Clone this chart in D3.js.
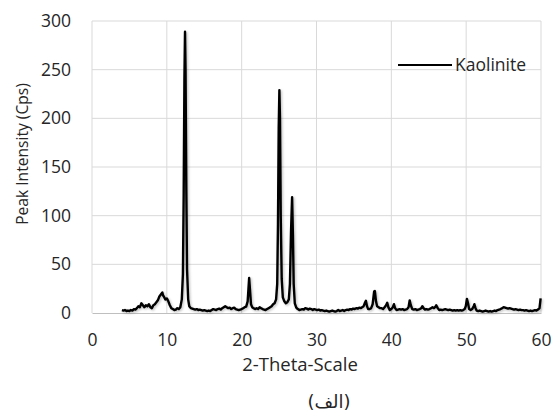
<!DOCTYPE html>
<html>
<head>
<meta charset="utf-8">
<script src="https://cdn.jsdelivr.net/npm/d3@7"></script>
<style>
  html, body { margin: 0; padding: 0; background: #fff; }
  svg text { font-family: "Open Sans", "Liberation Sans", sans-serif; fill: #262626; }
</style>
</head>
<body>
<svg id="chart" width="557" height="412"></svg>
<script>
const seriesName = "Kaolinite";
const xTicks = [0, 10, 20, 30, 40, 50, 60];
const yTicks = [0, 50, 100, 150, 200, 250, 300];
const xTitle = "2-Theta-Scale";
const yTitle = "Peak Intensity (Cps)";
const caption = "(الف)";

const twoTheta = [
  4.0,4.2,4.4,4.6,4.8,5.0,5.2,5.4,5.6,5.8,6.0,6.2,6.4,6.6,6.8,7.0,7.2,7.4,7.6,7.8,
  8.0,8.2,8.4,8.6,8.8,9.0,9.2,9.4,9.5,9.6,9.8,10.0,10.2,10.4,10.6,10.8,11.0,11.2,11.4,11.6,
  11.8,12.0,12.15,12.25,12.35,12.43,12.5,12.6,12.7,12.85,13.0,13.2,13.4,13.6,13.8,14.0,14.2,14.4,14.6,14.8,
  15.0,15.2,15.4,15.6,15.8,16.0,16.2,16.4,16.6,16.8,17.0,17.2,17.4,17.6,17.8,18.0,18.2,18.4,18.6,18.8,
  19.0,19.2,19.4,19.6,19.8,20.0,20.2,20.4,20.6,20.8,20.95,21.0,21.1,21.25,21.4,21.6,21.8,22.0,22.2,22.4,
  22.6,22.8,23.0,23.2,23.4,23.6,23.8,24.0,24.2,24.4,24.6,24.75,24.85,24.95,25.04,25.12,25.22,25.35,25.5,25.7,
  25.9,26.1,26.3,26.45,26.6,26.74,26.85,26.95,27.1,27.3,27.5,27.7,27.9,28.1,28.3,28.5,28.7,28.9,29.1,29.3,
  29.5,29.7,29.9,30.1,30.3,30.5,30.7,30.9,31.1,31.3,31.5,31.7,31.9,32.1,32.3,32.5,32.7,32.9,33.1,33.3,
  33.5,33.7,33.9,34.1,34.3,34.5,34.7,34.9,35.1,35.3,35.5,35.7,35.9,36.1,36.3,36.5,36.6,36.75,36.9,37.1,
  37.3,37.5,37.7,37.8,37.95,38.1,38.3,38.5,38.7,38.9,39.1,39.3,39.45,39.6,39.8,40.0,40.2,40.35,40.5,40.7,
  40.9,41.1,41.3,41.5,41.7,41.9,42.1,42.3,42.45,42.6,42.8,43.0,43.2,43.4,43.6,43.8,44.0,44.15,44.3,44.5,
  44.7,44.9,45.1,45.3,45.5,45.7,45.9,46.0,46.2,46.4,46.6,46.8,47.0,47.2,47.4,47.6,47.8,48.0,48.2,48.4,
  48.6,48.8,49.0,49.2,49.4,49.6,49.8,49.95,50.1,50.25,50.4,50.6,50.8,51.0,51.1,51.25,51.4,51.6,51.8,52.0,
  52.2,52.4,52.6,52.8,53.0,53.2,53.4,53.6,53.8,54.0,54.2,54.4,54.6,54.8,55.0,55.2,55.4,55.6,55.8,56.0,
  56.2,56.4,56.6,56.8,57.0,57.2,57.4,57.6,57.8,58.0,58.2,58.4,58.6,58.8,59.0,59.2,59.4,59.6,59.8,59.95
];
const intensity = [
  3,2.5,3,2,2.5,2,3,2.5,4,3.5,5,7,6,10,8,6,8,7,9,6,
  5,8,9,11,13,17,19,21,18,17,14,15,12,8,5,4,3,3.5,5,4,
  6,14,40,120,240,289,250,130,45,14,7,5,4.5,4,3.5,4,3,3.5,3,2.5,
  3,2.5,2,2.5,2,3,4,3.5,3,4,4.5,3.5,5,6,7,6,5,5.5,4,5,
  5.5,4,3.5,3,3.5,4,5,6,6.5,12,30,36,25,9,6,5,4,5,4,6,
  5,4,3.5,3,4,5,6,7,9,10,14,30,90,190,229,200,100,35,16,12,
  10,11,14,30,85,119,80,30,10,5.5,4,3,3.5,4,3.5,5,4.5,3.5,4.5,4,
  3,4,3.5,3,3.5,2.5,3,2.5,2,2.5,2,1.5,2,2.5,2,1.5,2,3,2,2.5,
  3,2,3,3.5,3,4,3.5,4.5,4,5,4.5,5.5,5,6,7,11,12.5,7,4,4,
  5,9,22,22.5,12,7,6,5,5,4,6,8,10.5,6,3,4,6,9,5,3,
  3.5,4,3.5,4,3,3.5,4,6,13,8,4,3.5,4,3,3.5,4,5,7,5,3.5,
  4,3.5,4,5,6,5,6.5,8,5,3,3.5,3,3.5,4,3.5,3,3.5,3,2.5,3,
  2.5,3,2.5,3,2.5,3,4,7,14.5,10,4,3,4,7,9,5,2.5,2,2.5,2,
  1.5,2,2.5,2,1.5,2,1.5,2,2.5,2,3,3.5,4,5,6,5.5,5,4.5,5,4.5,
  4,3.5,4,3.5,3,3.5,3,3,2.5,3,2.5,2,2.5,2,2.5,3,2.5,3.5,5,15
];

const data = twoTheta.map((t, i) => ({ x: t, y: intensity[i] }));

const svg = d3.select("#chart");
const x = d3.scaleLinear().domain([0, 60]).range([92, 541]);
const y = d3.scaleLinear().domain([0, 300]).range([313, 21]);

const defs = svg.append("defs");
const f = defs.append("filter").attr("id", "shadow").attr("x", "-20%").attr("y", "-20%").attr("width", "140%").attr("height", "140%");
f.append("feDropShadow").attr("dx", 1.2).attr("dy", 1.2).attr("stdDeviation", 1.2)
  .attr("flood-color", "#000").attr("flood-opacity", 0.25);

// gridlines
const grid = svg.append("g");
grid.selectAll("line.h").data(yTicks.filter(d => d > 0)).join("line")
  .attr("x1", x(0)).attr("x2", x(60))
  .attr("y1", d => y(d)).attr("y2", d => y(d))
  .attr("stroke", "#d9d9d9").attr("stroke-width", 1);
grid.selectAll("line.v").data(xTicks).join("line")
  .attr("x1", d => x(d)).attr("x2", d => x(d))
  .attr("y1", y(0)).attr("y2", y(300))
  .attr("stroke", "#d9d9d9").attr("stroke-width", 1);

// x axis
const xAxis = d3.axisBottom(x).tickValues(xTicks).tickSize(0).tickPadding(21).tickFormat(d3.format("d"));
const gx = svg.append("g").attr("transform", `translate(0,${y(0)})`).call(xAxis);
gx.select(".domain").attr("stroke", "#bfbfbf").attr("stroke-width", 1);
gx.selectAll("text").style("font-size", "17.5px").attr("fill", "#262626");

const yAxis = d3.axisLeft(y).tickValues(yTicks).tickSize(0).tickPadding(21).tickFormat(d3.format("d"));
const gy = svg.append("g").attr("transform", `translate(${x(0)},0)`).call(yAxis);
gy.select(".domain").remove();
gy.selectAll("text").style("font-size", "17.5px").attr("fill", "#262626");

// line
const line = d3.line().x(d => x(d.x)).y(d => y(d.y));
svg.append("path").datum(data)
  .attr("d", line)
  .attr("fill", "none")
  .attr("stroke", "#000")
  .attr("stroke-width", 2.4)
  .attr("stroke-linejoin", "round")
  .attr("filter", "url(#shadow)");

// titles
svg.append("text").attr("x", 300).attr("y", 371).attr("text-anchor", "middle")
  .style("font-size", "18.5px").text(xTitle);
svg.append("text").attr("transform", "translate(28,154) rotate(-90)").attr("text-anchor", "middle")
  .style("font-size", "15.6px").text(yTitle);
svg.append("text").attr("x", 329).attr("y", 408).attr("text-anchor", "middle")
  .style("font-size", "18px").style("font-family", "'DejaVu Sans', sans-serif").text(caption);

// legend
const lg = svg.append("g");
lg.append("line").attr("x1", 398).attr("x2", 452).attr("y1", 65).attr("y2", 65)
  .attr("stroke", "#000").attr("stroke-width", 2.2);
lg.append("text").attr("x", 455).attr("y", 65).attr("dy", "0.35em")
  .style("font-size", "17.5px").text(seriesName);
</script>
</body>
</html>
